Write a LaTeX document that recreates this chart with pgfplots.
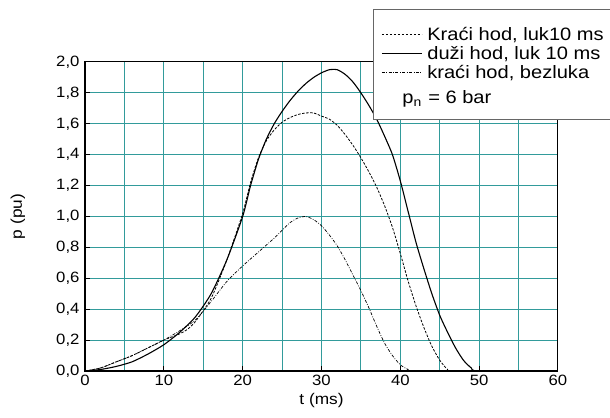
\documentclass[border=0pt]{standalone}
\usepackage{fontspec}
\setmainfont{Liberation Sans}[FakeStretch=1.12]
\usepackage{pgfplots}
\pgfplotsset{compat=1.18}
\definecolor{gridteal}{RGB}{50,155,155}

\pgfplotstableread{
t p
0 0
2 0.01
4 0.03
6 0.06
8 0.11
10 0.17
12 0.25
14 0.35
16 0.50
18 0.72
20 1.00
21 1.20
22 1.37
23 1.50
24 1.60
25 1.68
26 1.75
27 1.81
28 1.86
29 1.90
30 1.93
31 1.95
32 1.95
33 1.92
34 1.87
35 1.80
36 1.72
37 1.63
38 1.52
39 1.40
40 1.23
41 1.03
42 0.83
43 0.66
44 0.50
45 0.36
46 0.25
47 0.15
48 0.07
49 0.02
50 0.0
60 0.0
}\duzi

\pgfplotstableread{
t p
0 0
2 0.02
4 0.06
6 0.10
8 0.15
10 0.20
12 0.24
13 0.27
14 0.32
16 0.47
18 0.72
20 1.02
21 1.22
22 1.38
23 1.49
24 1.56
25 1.61
26 1.64
27 1.66
28 1.67
29 1.67
30 1.65
31 1.63
32 1.59
33 1.53
34 1.46
35 1.38
36 1.29
37 1.19
38 1.07
39 0.93
40 0.76
41 0.58
42 0.42
43 0.28
44 0.16
45 0.07
46 0.01
47 0
60 0
}\kraci

\pgfplotstableread{
t p
0 0
2 0.02
4 0.06
6 0.10
8 0.15
10 0.20
12 0.26
14 0.33
16 0.45
18 0.58
20 0.68
22 0.77
24 0.86
25 0.91
26 0.96
27 0.99
28 1.00
29 0.98
30 0.94
31 0.88
32 0.81
33 0.72
34 0.62
35 0.52
36 0.41
37 0.29
38 0.18
39 0.10
40 0.04
41 0.01
42 0
60 0
}\bezluka

\begin{document}
\begin{tikzpicture}
\begin{axis}[
  scale only axis,
  clip=false,
  width=473bp, height=309bp,
  xmin=0, xmax=60, ymin=0, ymax=2,
  xtick={0,10,20,30,40,50,60},
  minor xtick={5,15,25,35,45,55},
  ytick={0,0.2,0.4,0.6,0.8,1.0,1.2,1.4,1.6,1.8,2.0},
  grid=both,
  major grid style={gridteal, line width=1bp},
  minor grid style={gridteal, line width=1bp},
  minor tick length=0pt,
  major tick length=5bp,
  tick align=inside,
  xtick pos=bottom, ytick pos=left,
  tick style={black, line width=1bp},
  axis line style={black, line width=1bp},
  /pgf/number format/assume math mode=true,
  yticklabel style={/pgf/number format/use comma, /pgf/number format/fixed, /pgf/number format/fixed zerofill, /pgf/number format/precision=1, xshift=-2bp},
  ticklabel style={font=\fontsize{15}{17}\selectfont},
  xticklabel style={yshift=-1bp},
  xlabel={t (ms)},
  ylabel={p (pu)},
  label style={font=\fontsize{15.5}{18}\selectfont},
  xlabel style={at={(axis description cs:0.5,-0.097)}, anchor=center},
  ylabel style={at={(axis description cs:-0.142,0.5)}, anchor=center},
  legend style={at={(rel axis cs:0.609,1.1424)}, anchor=north west,
    draw=none, fill=none,
    font=\fontsize{18}{21}\selectfont,
    inner xsep=8bp, inner ysep=8bp,
    row sep=2.5bp, column sep=4bp,
    nodes={inner sep=1bp}},
  legend cell align=left,
  legend image code/.code={\draw[#1] (0bp,0bp) -- (40bp,0bp);},
]
\addplot[black, line width=0.8bp, dash pattern=on 2.5bp off 1.5bp, smooth, tension=0.4] table[x=t,y=p] {\kraci};
\addlegendentry{Kraći hod, luk10 ms}
\addplot[black, line width=1.1bp, smooth, tension=0.4] table[x=t,y=p] {\duzi};
\addlegendentry{duži hod, luk 10 ms}
\addplot[black, line width=0.7bp, dash pattern=on 3bp off 1.5bp on 0.8bp off 1.5bp, smooth, tension=0.4] table[x=t,y=p] {\bezluka};
\addlegendentry{kraći hod, bezluka}
\addlegendimage{empty legend}
\addlegendentry{\rule{0pt}{19bp}\hspace*{-25bp}p\raisebox{-3bp}{\fontsize{12.5}{12}\selectfont n}\hspace{7bp}= 6 bar}
\draw[black, line width=2bp] (rel axis cs:0,1) -- (rel axis cs:0,0) -- (rel axis cs:1,0);
\draw[draw=black!60, line width=1bp, fill=white] (rel axis cs:0.609,1.1715) rectangle (rel axis cs:1.2,0.8155);
\end{axis}
\pgfresetboundingbox
\path (-85bp,-47bp) rectangle (525bp,371bp);
\end{tikzpicture}
\end{document}
